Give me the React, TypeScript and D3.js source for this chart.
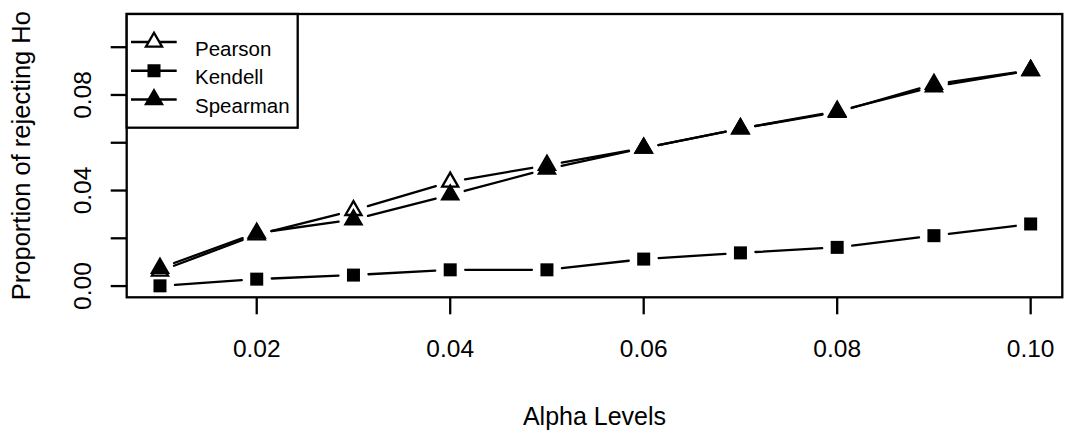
import React from "react";
import * as d3 from "d3";

const alphaLevels = [0.01, 0.02, 0.03, 0.04, 0.05, 0.06, 0.07, 0.08, 0.09, 0.1];
const pearson = [0.0063, 0.0215, 0.0317, 0.0436, 0.0506, 0.0578, 0.0659, 0.0728, 0.0845, 0.0903];
const kendell = [0.0001, 0.0029, 0.0046, 0.0068, 0.0068, 0.0113, 0.0139, 0.0162, 0.0211, 0.026];
const spearman = [0.0075, 0.0222, 0.0278, 0.0382, 0.049, 0.0578, 0.0659, 0.0732, 0.0835, 0.0903];

const xTicks = [0.02, 0.04, 0.06, 0.08, 0.1];
const xTickLabels = ["0.02", "0.04", "0.06", "0.08", "0.10"];
const yTicks = [0, 0.02, 0.04, 0.06, 0.08, 0.1];
const yTickLabels = ["0.00", "", "0.04", "", "0.08", ""];
const legendLabels = ["Pearson", "Kendell", "Spearman"];
const legendShapes = ["open", "square", "filled"];

const W = 1065;
const H = 430;
const box = { left: 126.7, right: 1062.3, top: 14, bottom: 297.3 };
const FONT = "'Liberation Sans', Arial, Helvetica, sans-serif";
const LW = 2.3;
const GAP = 15;
const TRI_R = 9.3;
const SQ = 13;

const x = d3.scaleLinear().domain([0.00656, 0.10327]).range([box.left, box.right]);
const y = d3.scaleLinear().domain([-0.0047, 0.1139]).range([box.bottom, box.top]);

function triPath(cx: number, cy: number, r: number) {
  const hw = (r * Math.sqrt(3)) / 2;
  const p = d3.path();
  p.moveTo(cx, cy - r);
  p.lineTo(cx + hw, cy + r / 2);
  p.lineTo(cx - hw, cy + r / 2);
  p.closePath();
  return p.toString();
}

function gappedSegments(xs: number[], ys: number[]) {
  const segs: { x1: number; y1: number; x2: number; y2: number }[] = [];
  for (let i = 0; i < xs.length - 1; i++) {
    const ax = x(xs[i]), ay = y(ys[i]);
    const bx = x(xs[i + 1]), by = y(ys[i + 1]);
    const dx = bx - ax, dy = by - ay;
    const len = Math.sqrt(dx * dx + dy * dy);
    if (len <= 2 * GAP) continue;
    const ux = dx / len, uy = dy / len;
    segs.push({ x1: ax + ux * GAP, y1: ay + uy * GAP, x2: bx - ux * GAP, y2: by - uy * GAP });
  }
  return segs;
}

function Marker({ shape, cx, cy, legend }: { shape: string; cx: number; cy: number; legend?: boolean }) {
  if (shape === "square") {
    return <rect x={cx - SQ / 2} y={cy - SQ / 2} width={SQ} height={SQ} fill="#000" />;
  }
  if (shape === "filled") {
    return <path d={triPath(cx, cy, TRI_R)} fill="#000" stroke="#000" strokeWidth={LW} strokeLinejoin="miter" />;
  }
  return (
    <path
      d={triPath(cx, cy, TRI_R)}
      fill={legend ? "#fff" : "none"}
      stroke="#000"
      strokeWidth={LW}
      strokeLinejoin="miter"
    />
  );
}

function Series({ values, shape }: { values: number[]; shape: string }) {
  const segs = gappedSegments(alphaLevels, values);
  return (
    <g>
      {segs.map((s, i) => (
        <line key={"s" + i} x1={s.x1} y1={s.y1} x2={s.x2} y2={s.y2} stroke="#000" strokeWidth={LW} strokeLinecap="round" />
      ))}
      {alphaLevels.map((a, i) => (
        <Marker key={"m" + i} shape={shape} cx={x(a)} cy={y(values[i])} />
      ))}
    </g>
  );
}

export default function App() {
  const legendRowY = (i: number) => 42 + i * 28.75;
  return (
    <svg
      width={W}
      height={H}
      viewBox={`0 0 ${W} ${H}`}
      style={{ position: "absolute", left: 0, top: 0, background: "#fff" }}
      fontFamily={FONT}
    >
      <rect x={0} y={0} width={W} height={H} fill="#fff" />

      {/* series */}
      <Series values={pearson} shape="open" />
      <Series values={kendell} shape="square" />
      <Series values={spearman} shape="filled" />

      {/* plot box */}
      <rect
        x={box.left}
        y={box.top}
        width={box.right - box.left}
        height={box.bottom - box.top}
        fill="none"
        stroke="#000"
        strokeWidth={LW}
      />

      {/* x axis */}
      {xTicks.map((t, i) => (
        <g key={"xt" + i}>
          <line x1={x(t)} x2={x(t)} y1={box.bottom} y2={box.bottom + 17} stroke="#000" strokeWidth={LW} />
          <text x={x(t)} y={357} fontSize={24.5} textAnchor="middle" fill="#000">
            {xTickLabels[i]}
          </text>
        </g>
      ))}

      {/* y axis */}
      {yTicks.map((t, i) => (
        <g key={"yt" + i}>
          <line x1={box.left - 16} x2={box.left} y1={y(t)} y2={y(t)} stroke="#000" strokeWidth={LW} />
          {yTickLabels[i] && (
            <text
              transform={`translate(90.7,${y(t)}) rotate(-90)`}
              fontSize={24.5}
              textAnchor="middle"
              fill="#000"
            >
              {yTickLabels[i]}
            </text>
          )}
        </g>
      ))}

      {/* axis titles */}
      <text x={(box.left + box.right) / 2} y={424.5} fontSize={25} textAnchor="middle" fill="#000">
        Alpha Levels
      </text>
      <text
        transform={`translate(29.5,${(box.top + box.bottom) / 2}) rotate(-90)`}
        fontSize={25.5}
        textAnchor="middle"
        fill="#000"
      >
        Proportion of rejecting Ho
      </text>

      {/* legend */}
      <rect x={box.left} y={box.top} width={171} height={113.7} fill="#fff" stroke="#000" strokeWidth={LW} />
      {legendLabels.map((lab, i) => {
        const ry = legendRowY(i);
        return (
          <g key={"lg" + i}>
            <line x1={131} x2={176.7} y1={ry} y2={ry} stroke="#000" strokeWidth={LW} />
            <Marker shape={legendShapes[i]} cx={154} cy={ry} legend />
            <text x={195} y={ry + 13.5} fontSize={20.5} fill="#000">
              {lab}
            </text>
          </g>
        );
      })}
    </svg>
  );
}
